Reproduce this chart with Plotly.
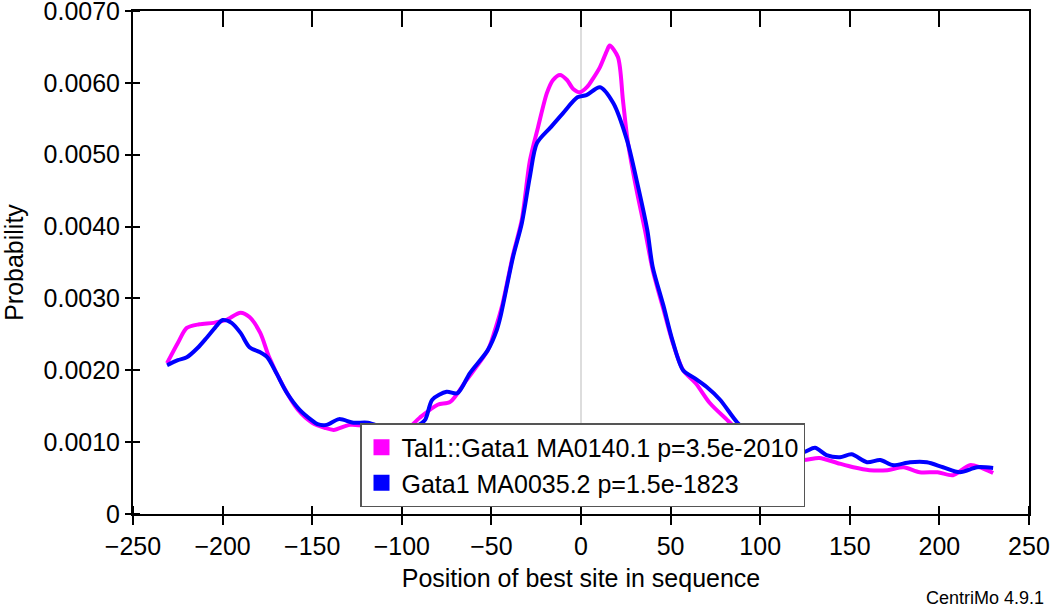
import plotly.graph_objects as go

# ---- data ----
tal1_x = [-231, -225, -220, -213, -205, -198, -190, -185, -179, -174, -166, -158, -150, -143, -138,
          -129, -120, -110, -100, -90, -80, -73, -64, -52, -48, -44, -38, -33, -28.5, -24, -19,
          -15.6, -11.7, -7.8, -4.5, -0.6, 3.3, 6.7, 10.6, 14.5, 16, 20.6, 23.4, 26, 31, 35.7, 40,
          46, 51, 57, 64, 72, 81.5, 87, 95, 105, 115, 124, 133, 143, 152, 161, 171, 180, 189,
          199, 207.6, 217, 222.7, 230]
tal1_y = [0.00210, 0.00238, 0.00259, 0.00264, 0.00266, 0.00270, 0.00280, 0.00274, 0.00252, 0.00218,
          0.00177, 0.00145, 0.00127, 0.00120, 0.00117, 0.00124, 0.00122, 0.00115, 0.00112, 0.00134,
          0.00152, 0.00156, 0.00186, 0.00228, 0.00256, 0.00290, 0.00360, 0.00410, 0.00492, 0.00538,
          0.00586, 0.00604, 0.00611, 0.00604, 0.00592, 0.00587, 0.00594, 0.00606, 0.00622, 0.00645,
          0.00652, 0.00636, 0.00576, 0.00520, 0.00451, 0.00395, 0.00340, 0.00285, 0.00240, 0.00200,
          0.00182, 0.00154, 0.00131, 0.00118, 0.00100, 0.00088, 0.00080, 0.00075, 0.00078, 0.00071,
          0.00065, 0.00061, 0.00061, 0.00065, 0.00058, 0.00058, 0.00054, 0.00068, 0.00065, 0.00057]

gata1_x = [-231, -225, -220, -214, -209, -203, -200, -195, -190, -185, -179, -175, -170, -164, -157,
           -150, -147, -142, -135, -127, -119, -110, -100, -92, -87, -83, -75, -69, -62, -52, -47,
           -45, -38, -33, -28.5, -24.6, -17, -10, -2, 3, 10.6, 18, 25.7, 31, 37, 40, 46, 51, 57,
           64, 70, 77.6, 87, 95, 105, 115, 124, 130.6, 137, 144.5, 151, 159.6, 167, 174, 183.6,
           193, 202, 211.5, 221, 230]
gata1_y = [0.00207, 0.00214, 0.00218, 0.00231, 0.00245, 0.00263, 0.00270, 0.00266, 0.00252, 0.00232,
           0.00225, 0.00218, 0.00196, 0.00168, 0.00145, 0.00130, 0.00125, 0.00124, 0.00132, 0.00127,
           0.00127, 0.00120, 0.00115, 0.00122, 0.00131, 0.00159, 0.00170, 0.00168, 0.00196, 0.00228,
           0.00256, 0.00274, 0.00357, 0.00405, 0.00470, 0.00516, 0.00538, 0.00558, 0.00580, 0.00583,
           0.00594, 0.00572, 0.00520, 0.00465, 0.00395, 0.00344, 0.00290, 0.00242, 0.00200, 0.00188,
           0.00177, 0.00159, 0.00128, 0.00110, 0.00098, 0.00090, 0.00086, 0.00092, 0.00082, 0.00079,
           0.00083, 0.00072, 0.00075, 0.00068, 0.00072, 0.00072, 0.00065, 0.00058, 0.00065, 0.00064]

series_names = ["Tal1::Gata1 MA0140.1 p=3.5e-2010", "Gata1 MA0035.2 p=1.5e-1823"]
x_ticks = [-250, -200, -150, -100, -50, 0, 50, 100, 150, 200, 250]
y_ticks = [0, 0.001, 0.002, 0.003, 0.004, 0.005, 0.006, 0.007]
y_ticktext = ["0", "0.0010", "0.0020", "0.0030", "0.0040", "0.0050", "0.0060", "0.0070"]

MAGENTA = "#ff00ff"
BLUE = "#0000ff"
FONT = "Liberation Sans, Arial, sans-serif"

fig = go.Figure()
fig.add_trace(go.Scatter(x=tal1_x, y=tal1_y, mode="lines", line=dict(color=MAGENTA, width=4, shape="spline", smoothing=0.8),
                         showlegend=False, hoverinfo="skip", xaxis="x", yaxis="y"))
fig.add_trace(go.Scatter(x=gata1_x, y=gata1_y, mode="lines", line=dict(color=BLUE, width=4, shape="spline", smoothing=0.8),
                         showlegend=False, hoverinfo="skip", xaxis="x2", yaxis="y"))
fig.add_trace(go.Scatter(x=[None], y=[None], mode="markers", name=series_names[0],
                         marker=dict(symbol="square", size=17, color=MAGENTA), xaxis="x", yaxis="y"))
fig.add_trace(go.Scatter(x=[None], y=[None], mode="markers", name=series_names[1],
                         marker=dict(symbol="square", size=17, color=BLUE), xaxis="x", yaxis="y"))

common_x = dict(range=[-250.01, 250.01], tickvals=x_ticks, showgrid=False, tickwidth=2, tickcolor="black",
                fixedrange=True, automargin=False)
common_y = dict(range=[-0.0000005, 0.0070005], tickvals=y_ticks, showgrid=False, tickwidth=2, tickcolor="black",
                fixedrange=True, automargin=False)
eps_x = 0.02
eps_y = 0.0000002

fig.update_layout(
    width=1050, height=606,
    margin=dict(l=133, r=21, t=11, b=92),
    paper_bgcolor="white", plot_bgcolor="white",
    font=dict(family=FONT, size=25, color="black"),
    xaxis=dict(**common_x, side="bottom", ticks="outside", ticklen=9,
               showline=True, linecolor="black", linewidth=2, mirror=True,
               zeroline=True, zerolinecolor="#dddddd", zerolinewidth=1.5,
               ticktext=[("\u2212" + str(abs(v))) if v < 0 else str(v) for v in x_ticks],
               tickfont=dict(size=25), ticklabeloverflow="allow",
               minor=dict(tickvals=[v + eps_x for v in x_ticks], ticks="inside", ticklen=8,
                          tickwidth=2, tickcolor="black", showgrid=False),
               title=dict(text="Position of best site in sequence", font=dict(size=25), standoff=10)),
    xaxis2=dict(**common_x, overlaying="x", side="top", anchor="y", ticks="inside", ticklen=16,
                showticklabels=False, showline=True, linecolor="black", linewidth=2, zeroline=False),
    yaxis=dict(**common_y, ticktext=y_ticktext, ticks="outside", ticklen=6,
               showline=True, linecolor="black", linewidth=2, mirror=True, zeroline=False,
               tickfont=dict(size=25), ticklabeloverflow="allow",
               minor=dict(tickvals=[v + eps_y for v in y_ticks], ticks="inside", ticklen=7,
                          tickwidth=2, tickcolor="black", showgrid=False),
               title=dict(text="Probability", font=dict(size=25), standoff=14)),
    legend=dict(x=(360 - 133) / 896, y=(514 - 423) / 503, xanchor="left", yanchor="top",
                bgcolor="white", bordercolor="#555555", borderwidth=1.5,
                font=dict(size=25, family=FONT), tracegroupgap=0),
    annotations=[dict(text="CentriMo 4.9.1", xref="paper", yref="paper",
                      x=(1046 - 133) / 896, y=(514 - 598) / 503, xanchor="right", yanchor="middle",
                      showarrow=False, font=dict(size=18, family=FONT))],
)

fig.write_html("out.html", config={"displayModeBar": False},
               post_script="document.body.style.margin='0px';document.body.style.padding='0px';")
